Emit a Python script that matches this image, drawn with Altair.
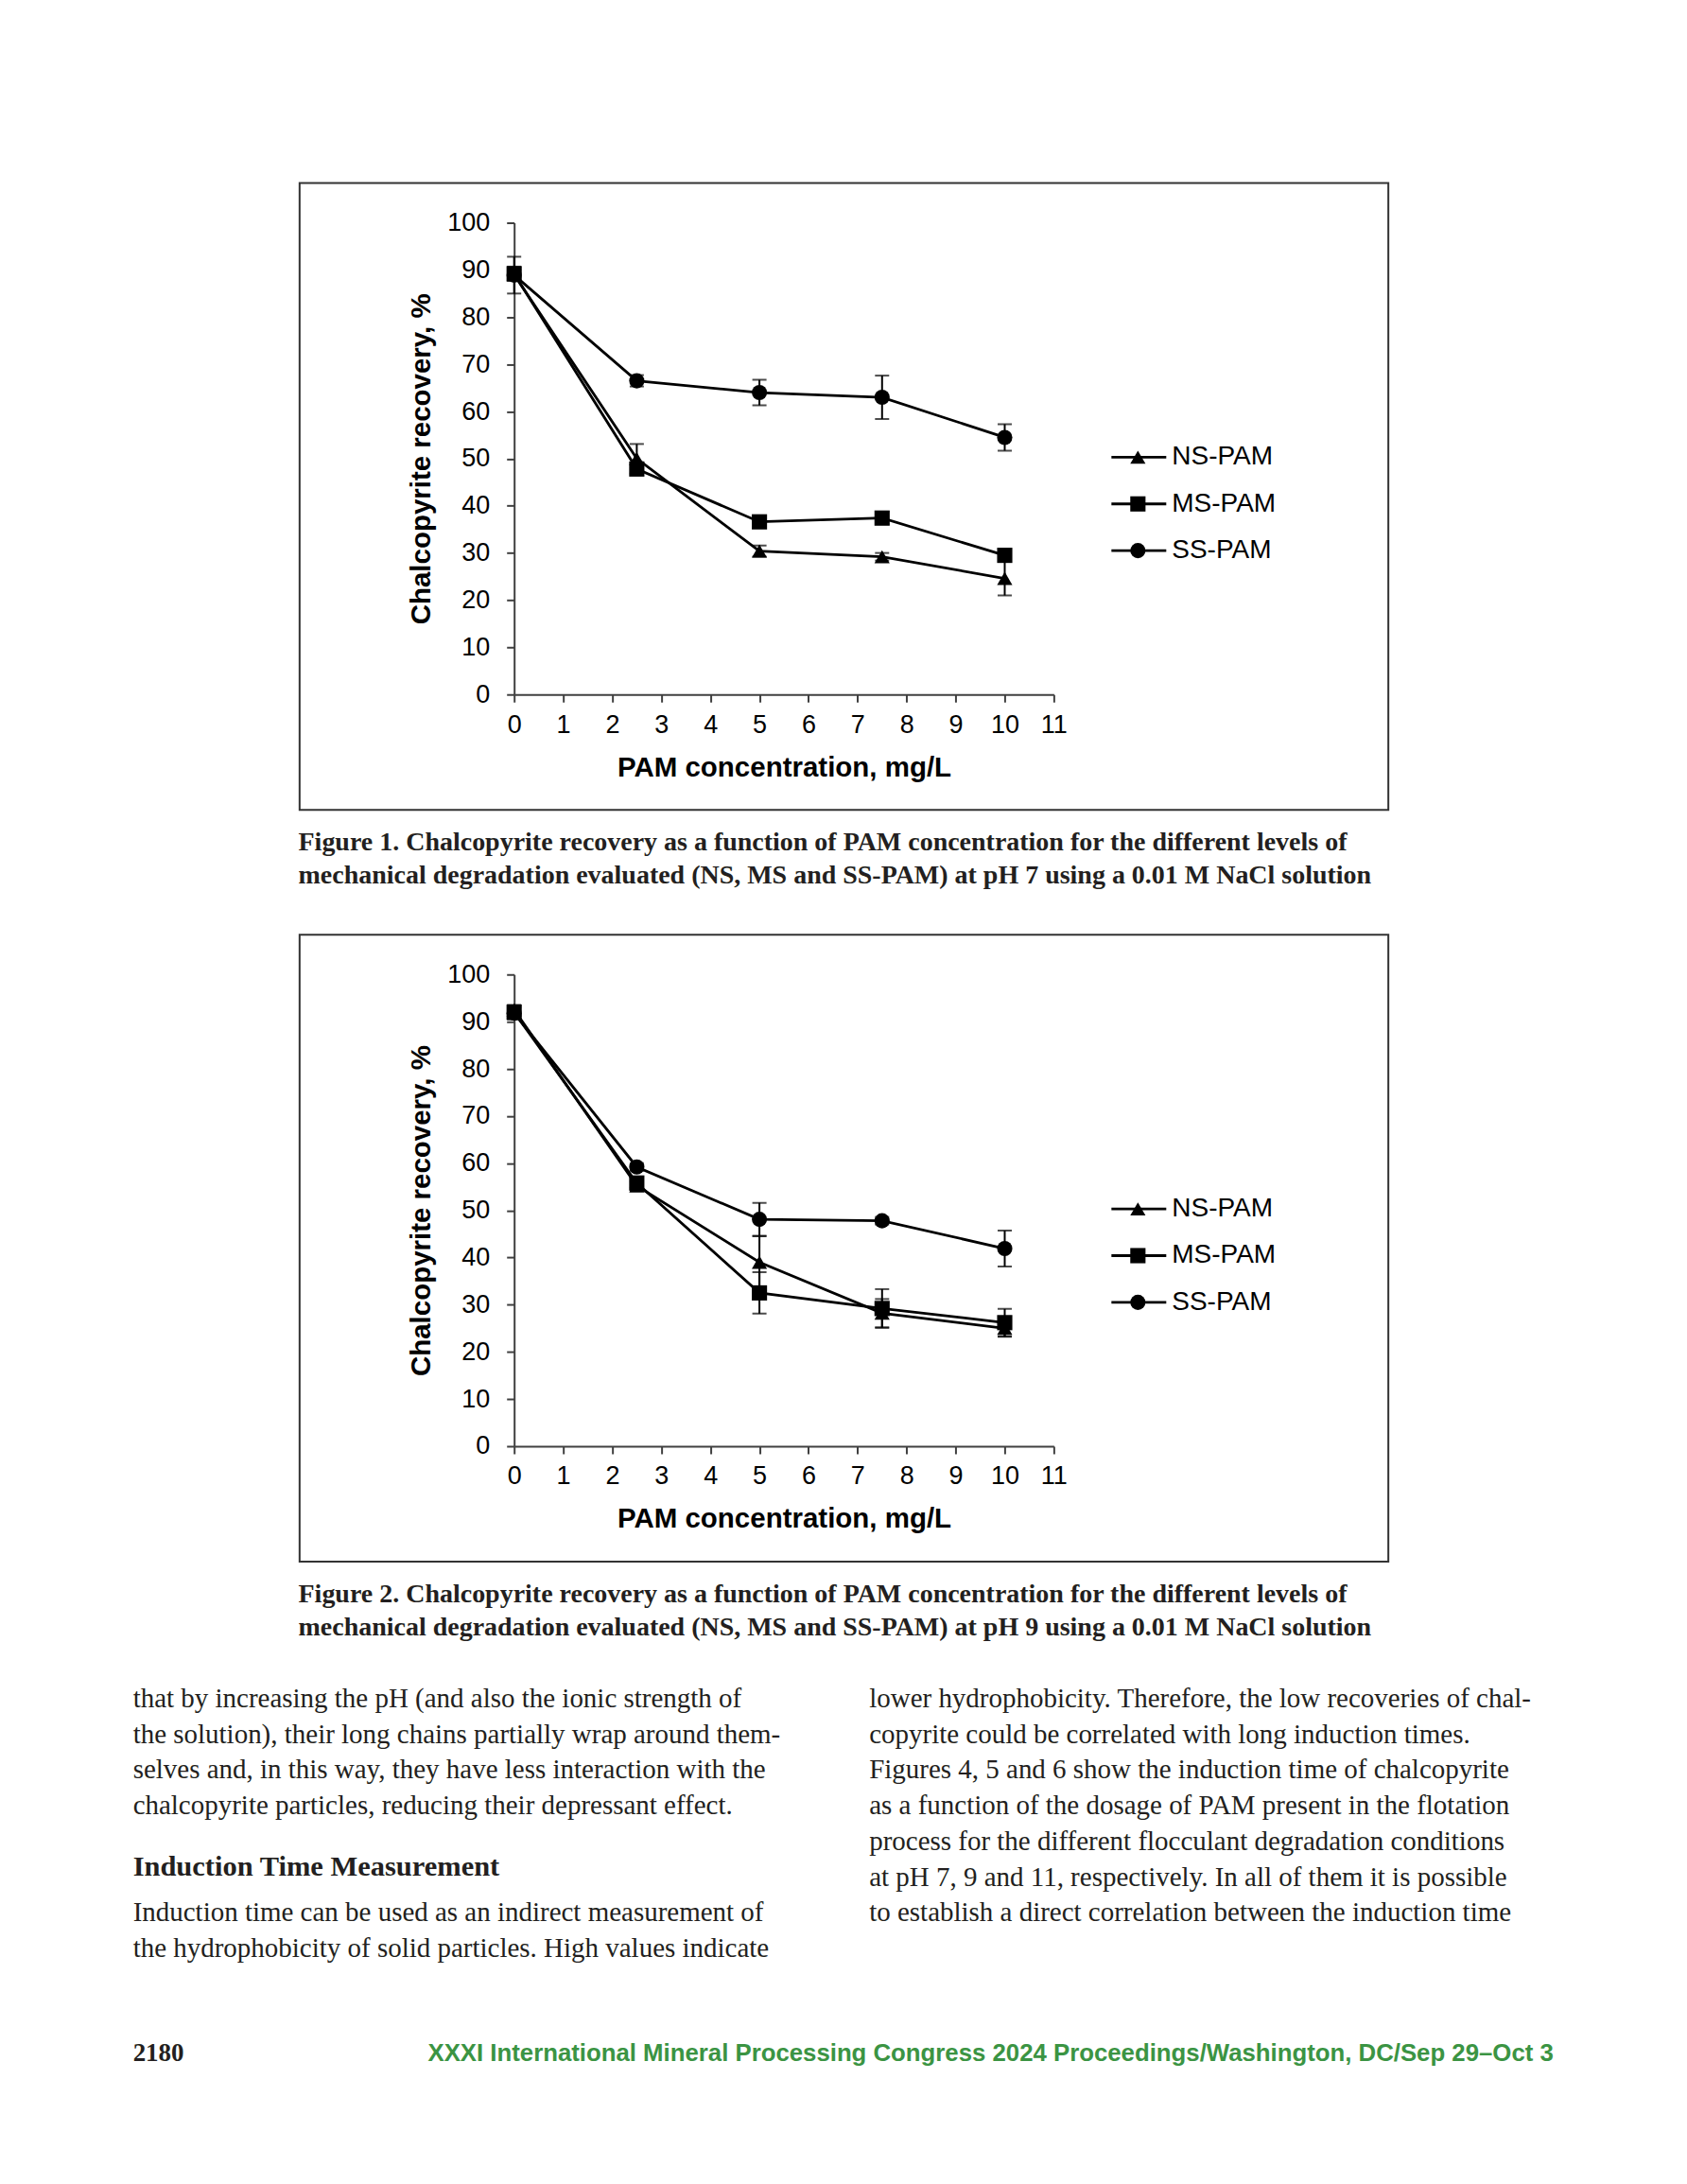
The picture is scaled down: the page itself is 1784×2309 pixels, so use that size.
import altair as alt
import pandas as pd

# ---------------- data ----------------
conc = [0, 2.5, 5, 7.5, 10]
series_names = ["NS-PAM", "MS-PAM", "SS-PAM"]
series_shapes = ["triangle-up", "square", "circle"]

# Figure 1 (pH 7)
f1_ns = [89.0, 50.0, 30.4, 29.2, 24.6]
f1_ns_err = [1.0, 3.1, 1.2, 0.8, 3.6]
f1_ms = [89.2, 47.8, 36.6, 37.4, 29.5]
f1_ms_err = [1.5, 1.0, 1.0, 1.3, 1.0]
f1_ss = [88.9, 66.5, 64.0, 63.0, 54.5]
f1_ss_err = [3.9, 1.2, 2.7, 4.6, 2.8]

# Figure 2 (pH 9)
f2_ns = [92.5, 55.2, 39.0, 28.2, 25.0]
f2_ns_err = [1.0, 1.0, 5.5, 3.0, 1.8]
f2_ms = [92.0, 55.8, 32.5, 29.2, 26.2]
f2_ms_err = [1.5, 1.0, 4.4, 4.1, 2.9]
f2_ss = [91.8, 59.2, 48.1, 47.8, 41.9]
f2_ss_err = [1.2, 0.8, 3.5, 0.8, 3.8]

x_ticks = [i * 0.5 for i in range(23)]
y_ticks = list(range(0, 101, 10))

x_title = "PAM concentration, mg/L"
y_title = "Chalcopyrite recovery, %"

caption1 = [
    "Figure 1. Chalcopyrite recovery as a function of PAM concentration for the different levels of",
    "mechanical degradation evaluated (NS, MS and SS-PAM) at pH 7 using a 0.01 M NaCl solution",
]
caption2 = [
    "Figure 2. Chalcopyrite recovery as a function of PAM concentration for the different levels of",
    "mechanical degradation evaluated (NS, MS and SS-PAM) at pH 9 using a 0.01 M NaCl solution",
]
left_col_1 = [
    "that by increasing the pH (and also the ionic strength of",
    "the solution), their long chains partially wrap around them-",
    "selves and, in this way, they have less interaction with the",
    "chalcopyrite particles, reducing their depressant effect.",
]
heading = "Induction Time Measurement"
left_col_2 = [
    "Induction time can be used as an indirect measurement of",
    "the hydrophobicity of solid particles. High values indicate",
]
right_col = [
    "lower hydrophobicity. Therefore, the low recoveries of chal-",
    "copyrite could be correlated with long induction times.",
    "Figures 4, 5 and 6 show the induction time of chalcopyrite",
    "as a function of the dosage of PAM present in the flotation",
    "process for the different flocculant degradation conditions",
    "at pH 7, 9 and 11, respectively. In all of them it is possible",
    "to establish a direct correlation between the induction time",
]
page_number = "2180"
footer = "XXXI International Mineral Processing Congress 2024 Proceedings/Washington, DC/Sep 29\u2013Oct 3"

# ---------------- layout constants ----------------
W, H = 571, 499
OX, OY = 535.3, 226.3          # offset of figure-1 plot origin from page content origin
SANS = "Liberation Sans"
SERIF = "Liberation Serif"
TXT = "#231f20"


def make_df(vals, errs):
    rows = []
    for name, v, e in zip(series_names, vals, errs):
        for x, y, d in zip(conc, v, e):
            rows.append({"x": x, "series": name, "y": y, "lo": y - d, "hi": y + d})
    return pd.DataFrame(rows)


def one(text):
    return pd.DataFrame({"t": [text]})


def text_block(lines, x, y, size, font=SERIF, weight="normal", lh=37.8, color=TXT, align="left"):
    return alt.Chart(one("\n".join(lines))).mark_text(
        lineBreak="\n", lineHeight=lh, align=align, baseline="alphabetic",
        font=font, fontSize=size, fontWeight=weight, color=color,
    ).encode(x=alt.value(x), y=alt.value(y), text="t:N")


def figure(df, caption, extra=None, background=False):
    xs = alt.X("x:Q", scale=alt.Scale(domain=[0, 11], nice=False),
               axis=alt.Axis(values=x_ticks, labelExpr="datum.value % 1 === 0 ? datum.label : ''",
                             title=x_title, titleX=285.5, titleY=86, titleBaseline="alphabetic",
                             titleFont=SANS, titleFontSize=29.5, titleFontWeight="bold", titleColor="black",
                             labelFont=SANS, labelFontSize=27, labelColor="black", labelPadding=11,
                             labelFlush=False, labelOverlap=False, tickSize=8, tickWidth=2,
                             tickColor="#404040", domainColor="#404040", domainWidth=2, grid=False))
    ys = alt.Y("y:Q", scale=alt.Scale(domain=[0, 100], nice=False),
               axis=alt.Axis(values=y_ticks, title=y_title, titleX=-98.5, titleY=249.5,
                             titleAngle=270, titleAlign="center", titleBaseline="middle",
                             titleFont=SANS, titleFontSize=29.5, titleFontWeight="bold", titleColor="black",
                             labelFont=SANS, labelFontSize=27, labelColor="black", labelPadding=18,
                             labelFlush=False, labelOverlap=False, tickSize=8, tickWidth=2,
                             tickColor="#404040", domainColor="#404040", domainWidth=2, grid=False))
    base = alt.Chart(df)
    shape = alt.Shape("series:N", scale=alt.Scale(domain=series_names, range=series_shapes), legend=None)

    bars = base.mark_rule(color="black", strokeWidth=2).encode(x=xs, y="lo:Q", y2="hi:Q")
    cap_lo = base.mark_tick(orient="horizontal", size=15, thickness=2, color="black").encode(x="x:Q", y="lo:Q")
    cap_hi = base.mark_tick(orient="horizontal", size=15, thickness=2, color="black").encode(x="x:Q", y="hi:Q")
    lines = base.mark_line(color="black", strokeWidth=2.8).encode(
        x=xs, y=ys, detail="series:N", order="x:Q")
    pts = base.mark_point(filled=True, size=260, color="black", opacity=1).encode(
        x="x:Q", y="y:Q", shape=shape)

    frame = alt.Chart(one("")).mark_rect(fillOpacity=0, stroke="#333333", strokeWidth=2).encode(
        x=alt.value(-227), x2=alt.value(925), y=alt.value(-42), y2=alt.value(621))

    layers = []
    if background:
        # invisible page-sized box: fixes the page origin of the whole drawing
        layers.append(alt.Chart(one("")).mark_rect(opacity=0).encode(
            x=alt.value(-OX), x2=alt.value(-OX + 1768), y=alt.value(-OY), y2=alt.value(-OY + 2293)))
    layers += [frame, bars, cap_lo, cap_hi, lines, pts]

    # legend
    for i, (name, shp) in enumerate(zip(series_names, series_shapes)):
        ly = 248 + 49.4 * i
        d = one(name)
        layers.append(alt.Chart(d).mark_rule(color="black", strokeWidth=2.8).encode(
            x=alt.value(632), x2=alt.value(690), y=alt.value(ly)))
        layers.append(alt.Chart(d).mark_point(shape=shp, filled=True, size=260, color="black", opacity=1).encode(
            x=alt.value(660), y=alt.value(ly)))
        layers.append(alt.Chart(d).mark_text(align="left", baseline="middle", font=SANS, fontSize=28,
                                             color="black").encode(
            x=alt.value(696), y=alt.value(ly), text="t:N"))

    layers.append(text_block(caption, -228.3, 664, 28, weight="bold", lh=35))
    if extra:
        layers += extra
    return alt.layer(*layers).properties(width=W, height=H)


df1 = make_df([f1_ns, f1_ms, f1_ss], [f1_ns_err, f1_ms_err, f1_ss_err])
df2 = make_df([f2_ns, f2_ms, f2_ss], [f2_ns_err, f2_ms_err, f2_ss_err])

LX = 140 - 543.3
RX = 919 - 543.3
body = [
    text_block(left_col_1, LX, 775, 29),
    text_block([heading], LX, 953.5, 30.5, weight="bold"),
    text_block(left_col_2, LX, 1001.5, 29),
    text_block(right_col, RX, 775, 29),
    text_block([page_number], LX, 1149.5, 27, weight="bold"),
    text_block([footer], 1643 - 543.3, 1149.5, 25.8, font=SANS,
               weight="bold", color="#3b9443", align="right"),
]

fig1 = figure(df1, caption1, background=True)
fig2 = figure(df2, caption2, extra=body)

chart = alt.vconcat(fig1, fig2, spacing=296.2, bounds="flush").properties(
    padding=0, background="white"
).configure_view(strokeWidth=0, stroke="transparent")

chart.save("out.html", embed_options={"renderer": "svg", "actions": False})
